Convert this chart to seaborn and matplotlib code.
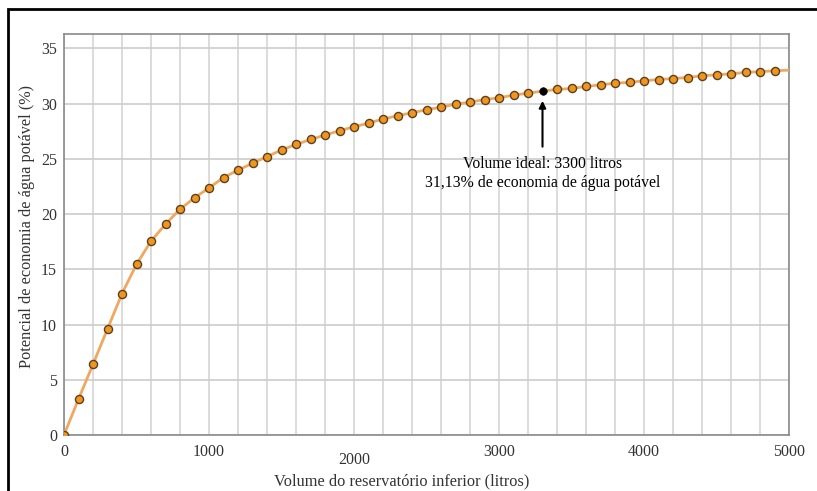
import numpy as np
import pandas as pd
import matplotlib
matplotlib.use("Agg")
import matplotlib.pyplot as plt
import matplotlib.transforms as mtransforms
from matplotlib.patches import Rectangle
import seaborn as sns

# volume do reservatório inferior (litros) e potencial de economia (%)
volumes = [0, 100, 200, 300, 400, 500, 600, 700, 800, 900,
           1000, 1100, 1200, 1300, 1400, 1500, 1600, 1700, 1800, 1900,
           2000, 2100, 2200, 2300, 2400, 2500, 2600, 2700, 2800, 2900,
           3000, 3100, 3200, 3300, 3400, 3500, 3600, 3700, 3800, 3900,
           4000, 4100, 4200, 4300, 4400, 4500, 4600, 4700, 4800, 4900]
economia = [0.0, 3.25, 6.4, 9.6, 12.8, 15.45, 17.55, 19.08, 20.44, 21.47,
            22.37, 23.3, 23.98, 24.6, 25.2, 25.8, 26.3, 26.75, 27.15, 27.54,
            27.9, 28.23, 28.6, 28.9, 29.17, 29.44, 29.68, 29.95, 30.13, 30.37,
            30.52, 30.77, 30.94, 31.13, 31.28, 31.37, 31.55, 31.7, 31.85, 31.92,
            32.07, 32.18, 32.27, 32.36, 32.52, 32.6, 32.7, 32.82, 32.9, 32.97]
# a curva continua até 5000 sem marcador
volume_fim = 5000
economia_fim = 33.03

volume_ideal = 3300
economia_ideal = 31.13

df = pd.DataFrame({"volume": volumes, "economia": economia})
df_linha = pd.concat([df, pd.DataFrame({"volume": [volume_fim], "economia": [economia_fim]})],
                     ignore_index=True)
df_pontos = df[df["volume"] != volume_ideal]

sns.set_style("white")
plt.rcParams['font.family'] = ['Liberation Serif', 'DejaVu Serif']

fig = plt.figure(figsize=(8.17, 4.91), dpi=100)
ax = fig.add_axes([64 / 817, 1 - 435 / 491, 725 / 817, 401 / 491])

sns.lineplot(data=df_linha, x="volume", y="economia", ax=ax, color="#f0a860",
             linewidth=2, zorder=3)
sns.scatterplot(data=df_pontos, x="volume", y="economia", ax=ax, color="#f0961e",
                edgecolor="#5a4020", linewidth=1, s=34, zorder=4)
sns.scatterplot(x=[volume_ideal], y=[economia_ideal], ax=ax, color="black",
                edgecolor="black", s=30, zorder=5)

ax.set_xlim(0, 5000)
ax.set_ylim(0, 36.3)
ax.set_xticks(np.arange(0, 5001, 1000))
ax.set_xticks(np.arange(0, 5001, 200), minor=True)
ax.set_yticks(np.arange(0, 36, 5))
ax.grid(True, which="both", axis="x", color="#d6d6d6", linewidth=1.2)
ax.grid(True, which="major", axis="y", color="#cccccc", linewidth=1.2)
ax.set_axisbelow(True)

for s in ax.spines.values():
    s.set_color("#8a8a8a")
    s.set_linewidth(1.2)
ax.tick_params(axis="both", which="both", direction="out", color="#8a8a8a",
               labelcolor="#333333", labelsize=11.5)
ax.tick_params(axis="x", which="major", length=5, pad=1.5)
ax.tick_params(axis="x", which="minor", length=5)
ax.tick_params(axis="y", which="major", length=3, pad=2)

# o rótulo 2000 aparece um pouco mais baixo no original
for lbl in ax.get_xticklabels():
    if lbl.get_text() == "2000":
        lbl.set_transform(lbl.get_transform() +
                          mtransforms.ScaledTranslation(0, -8 / 100, fig.dpi_scale_trans))

ax.set_xlabel("Volume do reservatório inferior (litros)", fontsize=11.8,
              color="#333333")
ax.xaxis.set_label_coords(0.466, -0.095)
ax.set_ylabel("Potencial de economia de água potável (%)", fontsize=11.7,
              color="#333333")
ax.yaxis.set_label_coords(-0.04, 0.52)

ax.annotate("", xy=(volume_ideal, 30.25), xytext=(volume_ideal, 26.1),
            arrowprops=dict(arrowstyle="-|>", color="black", lw=1.5,
                            mutation_scale=10, shrinkA=0, shrinkB=0))
ax.text(volume_ideal, 25.3, "Volume ideal: 3300 litros\n31,13% de economia de água potável",
        ha="center", va="top", fontsize=11.3, color="black", linespacing=1.25)

# moldura preta da figura
fig.patches.append(Rectangle((8 / 817, -0.5), 2, 0.5 + (1 - 9 / 491), fill=False,
                             edgecolor="black", linewidth=2,
                             transform=fig.transFigure, figure=fig))

fig.savefig("out.png", dpi=100)
